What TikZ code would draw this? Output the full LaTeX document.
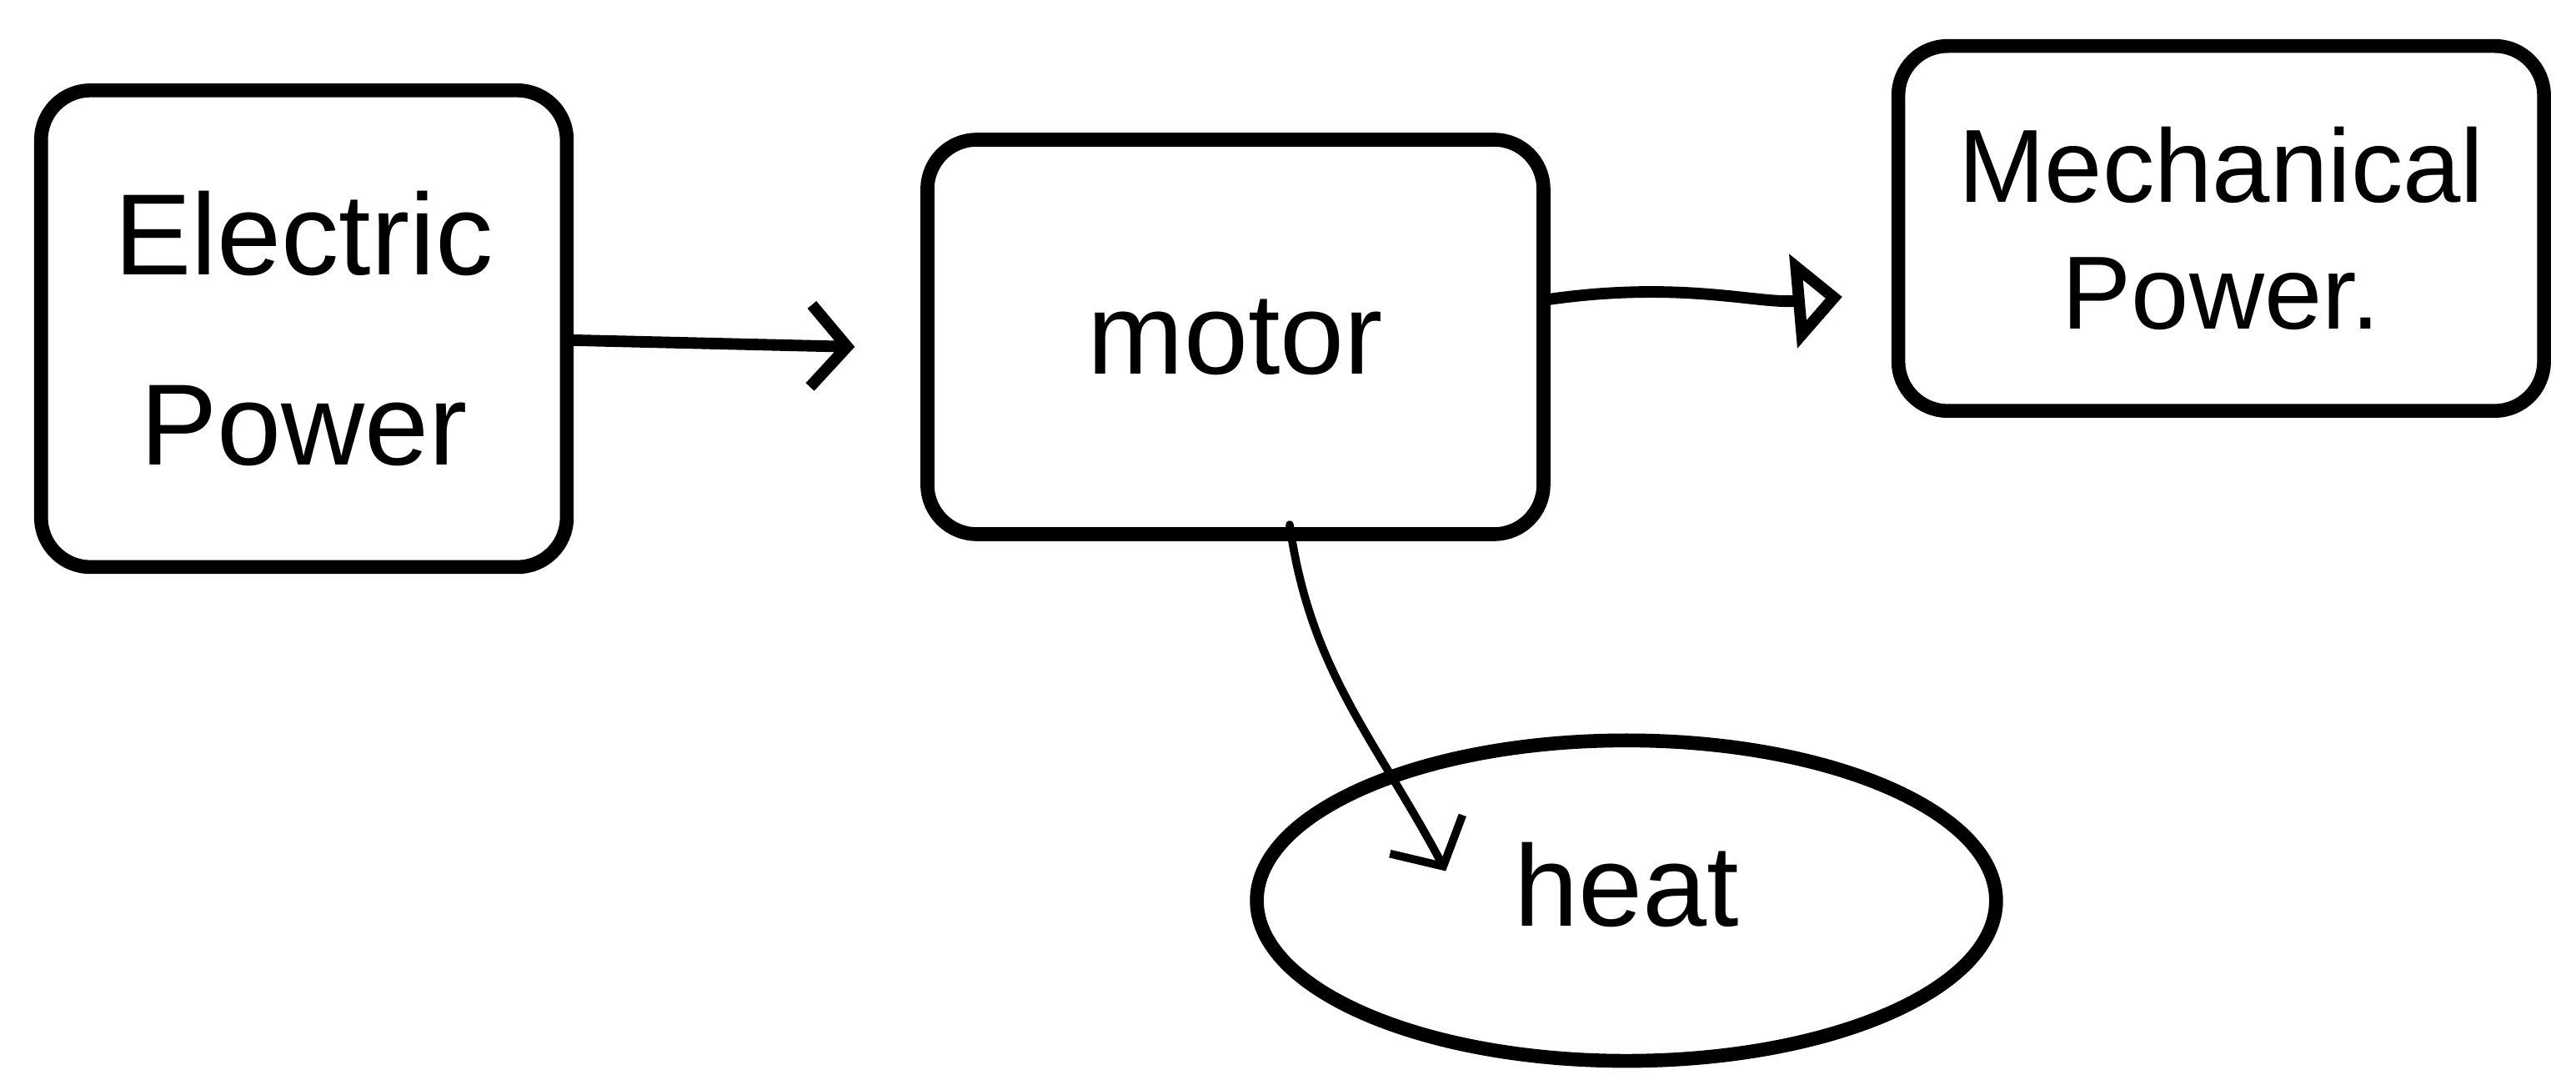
\documentclass[tikz,border=0pt]{standalone}
\usepackage{fontspec}
\setmainfont{Liberation Sans}
\usetikzlibrary{arrows.meta, shapes.geometric}

\begin{document}
\begin{tikzpicture}[
  pen/.style={line width=2.4pt, line cap=round, line join=round},
  blockbox/.style={pen, draw, rounded corners=3mm, align=center,
    font=\fontsize{20}{33}\selectfont},
  flow/.style={line width=2pt, line cap=round},
  hook/.style={-{Straight Barb[length=2.2mm, width=5mm, line width=2pt]}},
  wedge/.style={-{Triangle[open, length=3mm, width=5.6mm, line width=2pt]}}]
\useasboundingbox (0,0) rectangle (15.68,6.60);
% the three blocks and the loss blob
\node[blockbox, minimum width=3.2cm, minimum height=2.9cm] (ep) at (1.85,4.60)
  {Electric\\Power};
\node[blockbox, minimum width=3.75cm, minimum height=2.4cm] (motor) at (7.52,4.55)
  {motor};
\node[blockbox, minimum width=3.93cm, minimum height=2.22cm,
  font=\fontsize{18}{22}\selectfont] (mech) at (13.52,5.21) {Mechanical\\Power.};
\node[pen, draw, ellipse, minimum width=4.5cm, minimum height=1.95cm,
  font=\fontsize{20}{24}\selectfont] (heat) at (9.90,1.12) {\raisebox{2mm}{heat}};
% energy flow
\draw[flow, hook, shorten >=4mm] ([yshift=-0.7mm]ep.east) -- ([yshift=-0.7mm]motor.west);
\draw[flow, wedge, shorten >=3mm] ([yshift=2.3mm]motor.east)
  to[out=8, in=185] ([yshift=-3.9mm]mech.west);
\draw[line width=1.4pt, line cap=round,
  -{Straight Barb[length=2.2mm, width=5mm, line width=1.4pt]}]
  ([xshift=3.3mm, yshift=1mm]motor.south)
  to[out=-82, in=118] ([xshift=-11mm, yshift=1.8mm]heat.center);
\end{tikzpicture}
\end{document}
